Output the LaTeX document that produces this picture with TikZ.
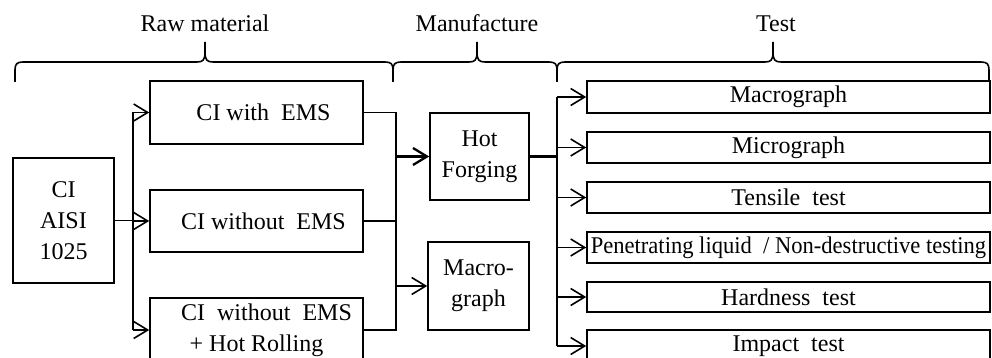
\documentclass[tikz,border=0pt]{standalone}
\usepackage{fontspec}
\setmainfont{Liberation Serif}
\usetikzlibrary{arrows.meta}
\begin{document}
\begin{tikzpicture}[x=1pt,y=-1pt,
  bx/.style={draw, line width=1.6pt, inner sep=0pt, align=center, font=\fontsize{24}{31}\selectfont},
  tbox/.style={bx, minimum width=403pt},
  ln/.style={line width=1.6pt},
  thk/.style={line width=2.3pt},
  arr/.style={ln, -{Straight Barb[length=14pt,width=17pt,line width=1.6pt]}},
  brc/.style={line width=1.6pt},
  lbl/.style={font=\fontsize{24}{29}\selectfont, anchor=base, inner sep=0pt}]
\useasboundingbox (0,0) rectangle (992,358);

% braces
\newcommand{\bracepath}[3]{%
  \draw[brc] (#1,82) -- (#1,70) .. controls (#1,64) and (#1+2,62) .. (#1+8,62)
    -- (#2-8,62) .. controls (#2-2,62) and (#2,60) .. (#2,52) -- (#2,42)
    -- (#2,52) .. controls (#2,60) and (#2+2,62) .. (#2+8,62)
    -- (#3-8,62) .. controls (#3-2,62) and (#3,64) .. (#3,70) -- (#3,82);}
\bracepath{15}{205}{393}
\bracepath{393}{477}{557}
\bracepath{557}{773}{989}
\node[lbl] (lraw) at (205,32) {Raw material};
\node[lbl] (lman) at (477,32) {Manufacture};
\node[lbl] (ltest) at (776,32) {Test};

% raw material
\node[bx, minimum width=101pt, minimum height=125pt] (aisi) at (63.5,220.5) {CI\\AISI\\1025};
\node[bx, minimum width=213pt, minimum height=63pt] (ems1) at (256.5,112.5) {\kern14pt CI with~ EMS};
\node[bx, minimum width=213pt, minimum height=62pt] (ems2) at (256.5,221) {\kern14pt CI without~ EMS};
\node[bx, minimum width=213pt, minimum height=64pt] (ems3) at (256.5,330) {\hspace*{20pt}CI~ without~ EMS\\+ Hot Rolling};

% manufacture
\node[bx, minimum width=99pt, minimum height=87pt] (hf) at (479.5,156.5) {Hot\\Forging};
\node[bx, minimum width=101pt, minimum height=88pt] (mg) at (478.5,286) {Macro-\\graph};

% tests
\node[tbox, minimum height=32pt] (t1) at (788.5,97) {Macrograph};
\node[tbox, minimum height=31pt] (t2) at (788.5,147.5) {Micrograph};
\node[tbox, minimum height=31pt] (t3) at (788.5,197.5) {Tensile~ test};
\node[tbox, minimum height=31pt] (t4) at (788.5,247.5) {\scalebox{0.94}[1]{Penetrating liquid~ / Non-destructive testing}};
\node[tbox, minimum height=30pt] (t5) at (788.5,297) {Hardness~ test};
\node[tbox, minimum height=32pt] (t6) at (788.5,346) {Impact~ test};

% bus coordinates
\coordinate (b1) at (133,0);
\coordinate (b2) at (396,0);
\coordinate (b3) at (557,0);

% bus 1
\draw[ln] (aisi.east) -- (aisi.east -| b1);
\draw[ln] (ems1.west -| b1) -- (ems3.west -| b1);
\draw[arr] (ems1.west -| b1) -- (ems1.west);
\draw[arr] (ems2.west -| b1) -- (ems2.west);
\draw[arr] (ems3.west -| b1) -- (ems3.west);

% bus 2
\draw[ln] (ems1.east) -- (ems1.east -| b2) -- (ems3.east -| b2) -- (ems3.east);
\draw[ln] (ems2.east) -- (ems2.east -| b2);
\draw[thk, -{Straight Barb[length=14pt,width=17pt,line width=2.3pt]}] (hf.west -| b2) -- (hf.west);
\draw[arr] (mg.west -| b2) -- (mg.west);

% bus 3
\draw[thk] (hf.east) -- (hf.east -| b3);
\draw[thk] (t1.west -| b3) -- (t6.west -| b3);
\foreach \t in {t1,t2,t3,t4,t5,t6}
  \draw[arr] (\t.west -| b3) -- (\t.west);
\end{tikzpicture}
\end{document}
